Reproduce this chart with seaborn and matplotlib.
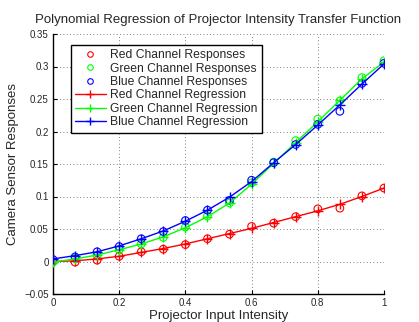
import numpy as np
import pandas as pd
import matplotlib
matplotlib.use("Agg")
import matplotlib.pyplot as plt
import seaborn as sns

# projector input levels (16 steps)
intensity = [0.0, 0.0667, 0.1333, 0.2, 0.2667, 0.3333, 0.4, 0.4667,
             0.5333, 0.6, 0.6667, 0.7333, 0.8, 0.8667, 0.9333, 1.0]

red_resp = [0.000, -0.001, 0.002, 0.008, 0.015, 0.019, 0.026, 0.035,
            0.042, 0.054, 0.059, 0.069, 0.081, 0.082, 0.101, 0.113]
green_resp = [-0.001, 0.005, 0.009, 0.018, 0.027, 0.037, 0.053, 0.070,
              0.090, 0.121, 0.153, 0.186, 0.219, 0.247, 0.283, 0.309]
blue_resp = [0.003, 0.007, 0.015, 0.023, 0.035, 0.046, 0.063, 0.079,
             0.094, 0.125, 0.152, 0.180, 0.211, 0.231, 0.274, 0.305]

red_fit = [0.000, 0.001, 0.004, 0.008, 0.014, 0.020, 0.027, 0.035,
           0.043, 0.051, 0.060, 0.069, 0.078, 0.088, 0.100, 0.113]
green_fit = [-0.001, 0.004, 0.010, 0.018, 0.027, 0.038, 0.052, 0.069,
             0.090, 0.119, 0.151, 0.183, 0.215, 0.248, 0.281, 0.307]
blue_fit = [0.004, 0.009, 0.015, 0.024, 0.035, 0.047, 0.062, 0.079,
            0.099, 0.123, 0.152, 0.180, 0.210, 0.241, 0.273, 0.304]

channels = ["Red", "Green", "Blue"]
colors = {"Red": "#ff0000", "Green": "#00ff00", "Blue": "#0000ff"}

df = pd.DataFrame({
    "x": intensity * 3,
    "resp": red_resp + green_resp + blue_resp,
    "fit": red_fit + green_fit + blue_fit,
    "channel": [c for c in channels for _ in intensity],
})

sns.set_style("white")
plt.rcParams["font.family"] = ["Liberation Sans", "DejaVu Sans"]

fig = plt.figure(figsize=(4.19, 3.22), dpi=100)
ax = fig.add_axes([53 / 419, 28 / 322, 331 / 419, 260 / 322])

resp_handles = []
fit_handles = []
for c in channels:
    sub = df[df["channel"] == c]
    sns.scatterplot(data=sub, x="x", y="resp", ax=ax, marker="o", s=30,
                    facecolors="none", edgecolor=colors[c], linewidth=0.8,
                    zorder=3)
    h, = ax.plot([], [], linestyle="none", marker="o", markersize=4,
                 markerfacecolor="none", markeredgecolor=colors[c],
                 markeredgewidth=0.8)
    resp_handles.append(h)
for c in channels:
    sub = df[df["channel"] == c]
    sns.lineplot(data=sub, x="x", y="fit", ax=ax, color=colors[c],
                 linewidth=1.0, marker="+", markersize=7, markeredgewidth=1.0,
                 markeredgecolor=colors[c], zorder=4)
    h, = ax.plot([], [], color=colors[c], linewidth=1.0, marker="+",
                 markersize=6, markeredgewidth=1.0)
    fit_handles.append(h)

ax.set_xlim(0, 1)
ax.set_ylim(-0.05, 0.35)
ax.set_xticks([0, 0.2, 0.4, 0.6, 0.8, 1])
ax.set_xticklabels(["0", "0.2", "0.4", "0.6", "0.8", "1"])
ax.set_yticks([-0.05, 0, 0.05, 0.1, 0.15, 0.2, 0.25, 0.3, 0.35])
ax.set_yticklabels(["\u22120.05", "0", "0.05", "0.1", "0.15", "0.2", "0.25", "0.3", "0.35"])
ax.tick_params(direction="in", length=3, width=0.8, labelsize=7, pad=3,
               bottom=True, left=True, color="black")
ax.grid(True, linestyle=(0, (1, 3)), color="#555555", linewidth=0.6)
for side in ["top", "right"]:
    ax.spines[side].set_visible(False)
for side in ["left", "bottom"]:
    ax.spines[side].set_color("black")
    ax.spines[side].set_linewidth(1.0)

ax.set_title("Polynomial Regression of Projector Intensity Transfer Function",
             fontsize=9.5, pad=8)
ax.set_xlabel("Projector Input Intensity", fontsize=9.5, labelpad=1)
ax.set_ylabel("Camera Sensor Responses", fontsize=9.5, labelpad=4)

labels = [c + " Channel Responses" for c in channels] + \
         [c + " Channel Regression" for c in channels]
leg = ax.legend(resp_handles + fit_handles, labels, loc="upper left",
                bbox_to_anchor=(0.053, 0.958), borderaxespad=0, fontsize=8.7,
                frameon=True, fancybox=False, edgecolor="black", framealpha=1,
                handlelength=2.6, handletextpad=0.35, labelspacing=0.12,
                borderpad=0.35)
leg.get_frame().set_linewidth(1.0)

fig.savefig("out.png", dpi=100)
